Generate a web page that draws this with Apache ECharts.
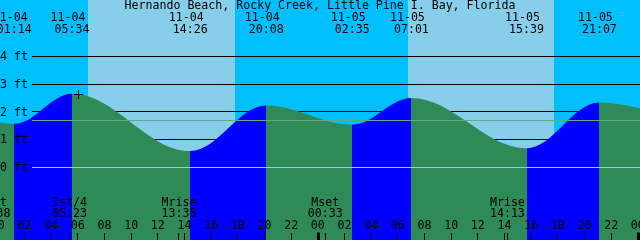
<!DOCTYPE html>
<html><head><meta charset="utf-8">
<script src="https://cdn.jsdelivr.net/npm/echarts@6/dist/echarts.min.js"></script>
<style>html,body{margin:0;padding:0;background:#00BFFF}#c{width:640px;height:240px}</style>
</head><body><div id="c"></div>
<script>
// All times: hours since 11-04 00:00
const chartTitle = 'Hernando Beach, Rocky Creek, Little Pine I. Bay, Florida';
const tideTimes = [1.233, 5.567, 14.433, 20.133, 26.583, 31.017, 39.65, 45.117];
const tideDates = ['11-04', '11-04', '11-04', '11-04', '11-05', '11-05', '11-05', '11-05'];
const tideClock = ['01:14', '05:34', '14:26', '20:08', '02:35', '07:01', '15:39', '21:07'];
const tideKinds = ['low', 'high', 'low', 'high', 'low', 'high', 'low', 'high'];
// tide extremes (heights in ft), incl. estimated off-screen neighbours at both ends
const extremeHours = [-4.5, 1.233, 5.567, 14.433, 20.133, 26.583, 31.017, 39.65, 45.117, 51.6];
const extremeFeet  = [2.2, 1.575, 2.66, 0.59, 2.23, 1.54, 2.50, 0.69, 2.34, 1.65];
const dayStart = [6.76, 30.76];
const dayEnd = [17.79, 41.71];
const moonTimes = [-0.367, 5.383, 13.583, 24.55, 38.217];
const moonNames = ['Mset', '1st/4', 'Mrise', 'Mset', 'Mrise'];
const moonClock = ['23:38', '05:23', '13:35', '00:33', '14:13'];
const hourTicks = [0, 2, 4, 6, 8, 10, 12, 14, 16, 18, 20, 22, 24, 26, 28, 30, 32, 34, 36, 38, 40, 42, 44, 46, 48];
const hourLabels = ['00', '02', '04', '06', '08', '10', '12', '14', '16', '18', '20', '22', '00', '02', '04', '06', '08', '10', '12', '14', '16', '18', '20', '22', '00'];
const levelTicks = [0, 1, 2, 3, 4];
const levelLabels = ['0 ft', '1 ft', '2 ft', '3 ft', '4 ft'];
const meanLevel = 1.69;
const nowHour = 6.0;
const nowFeet = 2.65;

const X_MIN = 0.1625, X_MAX = 48.1625, Y_MIN = -2.613, Y_MAX = 6.036;
const FONT = '11.6px "DejaVu Sans Mono"';
const RISE = '#0000FF', FALL = '#2E8B57';
const px = v => Math.floor(v) + 0.5;
function txt(x, y, s, align) {
  const a = align || 'center';
  return { type: 'text', x: x, y: y, style: { text: s, font: FONT, fill: '#000', align: a, verticalAlign: 'middle', textAlign: a, textVerticalAlign: 'middle' } };
}
function ln(x1, y1, x2, y2, color, w) {
  return { type: 'line', shape: { x1, y1, x2, y2 }, style: { stroke: color, lineWidth: w || 1 } };
}

const pieces = [];
tideTimes.forEach((t, i) => {
  const p = { lt: t, color: tideKinds[i] === 'low' ? FALL : RISE };
  if (i > 0) p.gte = tideTimes[i - 1];
  pieces.push(p);
});
pieces.push({ gte: tideTimes[tideTimes.length - 1], color: tideKinds[tideKinds.length - 1] === 'high' ? FALL : RISE });

const chart = echarts.init(document.getElementById('c'));
chart.setOption({
  animation: false,
  backgroundColor: '#00BFFF',
  title: { text: chartTitle, left: 'center', top: 0, padding: 0, textStyle: { fontFamily: 'DejaVu Sans Mono', fontSize: 11.6, fontWeight: 'normal', color: '#000', lineHeight: 12 } },
  grid: { left: 0, right: 0, top: 0, bottom: 0 },
  xAxis: { type: 'value', min: X_MIN, max: X_MAX, show: false },
  yAxis: { type: 'value', min: Y_MIN, max: Y_MAX, show: false },
  visualMap: { show: false, type: 'piecewise', dimension: 0, seriesIndex: 2, pieces: pieces },
  series: [
    { type: 'custom', z: 0, silent: true, data: dayStart.map((s, i) => [s, dayEnd[i]]),
      renderItem(p, api) {
        const cs = p.coordSys;
        const x0 = Math.round(api.coord([api.value(0), 0])[0]);
        const x1 = Math.round(api.coord([api.value(1), 0])[0]);
        return { type: 'rect', shape: { x: x0, y: cs.y, width: x1 - x0, height: cs.height }, style: { fill: '#87CEEB' } };
      } },
    { type: 'custom', z: 1, silent: true, data: levelTicks.filter(v => v > 0).map(v => [X_MIN, v]),
      renderItem(p, api) {
        const cs = p.coordSys;
        const y = px(api.coord([0, api.value(1)])[1]);
        return ln(32, y, cs.x + cs.width, y, '#000', 1);
      } },
    { type: 'line', z: 2, silent: true, data: extremeHours.map((h, i) => [h, extremeFeet[i]]), smooth: 0.364, smoothMonotone: 'x', symbol: 'none',
      lineStyle: { width: 0 }, areaStyle: { opacity: 1, origin: 'start' } },
    { type: 'custom', z: 3, silent: true, data: [[X_MIN, levelTicks[0]], [X_MIN, meanLevel]],
      renderItem(p, api) {
        const cs = p.coordSys;
        const y = px(api.coord([0, api.value(1)])[1]);
        return ln(32, y, cs.x + cs.width, y, p.dataIndex === 0 ? '#8CD0EC' : '#5FA98A', 1);
      } },
    { type: 'custom', z: 4, silent: true, data: levelTicks.map((v, i) => [X_MIN, v, i]),
      renderItem(p, api) {
        const y = api.coord([0, api.value(1)])[1];
        return txt(0, y + 0.5, levelLabels[api.value(2)], 'left');
      } },
    { type: 'custom', z: 4, silent: true, clip: false, data: tideTimes.map((t, i) => [t, 0, i]),
      renderItem(p, api) {
        const i = api.value(2);
        const x = api.coord([api.value(0), 0])[0];
        return { type: 'group', children: [txt(x - 4, 18.3, tideDates[i]), txt(x, 30.3, tideClock[i])] };
      } },
    { type: 'custom', z: 4, silent: true, clip: false, data: moonTimes.map((t, i) => [t, 0, i]),
      renderItem(p, api) {
        const i = api.value(2);
        const x = api.coord([api.value(0), 0])[0];
        return { type: 'group', children: [txt(x, 202.8, moonNames[i]), txt(x, 213.8, moonClock[i]), ln(px(x), 233, px(x), 240, '#000', 1)] };
      } },
    { type: 'custom', z: 4, silent: true, clip: false, data: hourTicks.map((h, i) => [h, 0, i]),
      renderItem(p, api) {
        const i = api.value(2);
        const h = api.value(0);
        const x = api.coord([h, 0])[0];
        const thick = h % 24 === 0;
        const tx = thick ? Math.floor(x) + 1.5 : px(x);
        return { type: 'group', children: [txt(x, 226, hourLabels[i]), ln(tx, thick ? 232.5 : 233, tx, 240, '#000', thick ? 3 : 1)] };
      } },
    { type: 'custom', z: 5, silent: true, data: [[nowHour, nowFeet]],
      renderItem(p, api) {
        const c = api.coord([api.value(0), api.value(1)]);
        const x = Math.round(c[0]) + 0.5, y = Math.round(c[1]) + 0.5;
        return { type: 'group', children: [ln(x - 4.5, y, x + 4.5, y, '#000', 1), ln(x, y - 4.5, x, y + 4.5, '#000', 1)] };
      } }
  ]
});
</script></body></html>
